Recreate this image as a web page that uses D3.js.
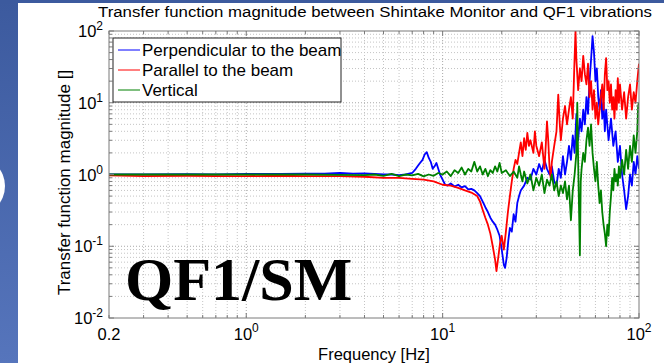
<!DOCTYPE html>
<html>
<head>
<meta charset="utf-8">
<script src="https://cdn.jsdelivr.net/npm/d3@7"></script>
<style>
  body { margin: 0; background: #fff; }
  svg { display: block; font-family: Arial, "Liberation Sans", sans-serif; }
</style>
</head>
<body>
<svg width="664" height="363"></svg>
<script>
// chart text
let title_text = "Transfer function magnitude between Shintake Monitor and QF1 vibrations";
let x_title_text = "Frequency [Hz]";
let y_title_text = "Transfer function magnitude []";
let stamp_text = "QF1/SM";
let series_names = ["Perpendicular to the beam", "Parallel to the beam", "Vertical"];
let series_colors = ["#0000ff", "#ff0000", "#008000"];

// axis ticks: [value, base, exponent]
let x_ticks = [[0.2, "0.2", null], [1, "10", "0"], [10, "10", "1"], [100, "10", "2"]];
let y_ticks = [[0.01, "10", "-2"], [0.1, "10", "-1"], [1, "10", "0"], [10, "10", "1"], [100, "10", "2"]];

// [frequency Hz, magnitude]
let perpendicular = [
  [0.2, 1.0], [0.3, 1.0], [0.5, 1.01], [0.7, 1.0], [1, 1.02], [1.5, 1.02], [2, 1.03],
  [2.5, 1.03], [3, 1.05], [3.5, 1.03], [4, 1.04], [4.5, 1.02], [5, 1.0], [5.5, 1.0],
  [6, 0.98], [6.5, 1.0], [7, 1.05], [7.3, 1.2], [7.6, 1.4], [7.9, 1.6], [8.1, 1.9],
  [8.3, 2.05], [8.5, 1.7], [8.7, 1.5], [8.9, 1.2], [9.1, 1.3], [9.3, 1.45], [9.5, 1.2],
  [9.7, 1.0], [10, 0.85], [10.3, 0.72], [10.6, 0.7], [11, 0.75], [11.5, 0.68], [12, 0.72],
  [12.5, 0.66], [13, 0.69], [13.5, 0.62], [14, 0.63], [14.5, 0.6], [15, 0.55], [15.5, 0.5],
  [16, 0.42], [16.5, 0.35], [17, 0.3], [17.5, 0.25], [18, 0.22], [18.5, 0.2], [19, 0.17],
  [19.5, 0.14], [20, 0.09], [20.5, 0.055], [20.8, 0.05], [21.2, 0.07], [21.6, 0.12],
  [22, 0.18], [22.5, 0.16], [23, 0.28], [23.5, 0.22], [24, 0.4], [24.5, 0.5], [25, 0.6],
  [26, 0.7], [27, 0.9], [28, 0.85], [29, 1.2], [30, 1.0], [31, 1.4], [32, 1.1], [33, 1.6],
  [34, 1.2], [35, 1.0], [36, 1.3], [37, 0.8], [38, 0.7], [39, 1.2], [40, 0.9], [41, 1.8],
  [42, 1.0], [43, 1.5], [44, 2.5], [45, 1.6], [46, 3.5], [47, 2.0], [48, 7], [49, 3],
  [50, 6], [51, 4], [52, 8], [53, 5], [54, 12], [55, 7], [56, 20], [57, 40], [58, 85],
  [59, 50], [60, 20], [61, 30], [62, 12], [63, 8], [64, 15], [65, 6], [66, 10], [67, 4],
  [68, 8], [70, 3], [72, 6], [74, 2.5], [76, 4], [78, 1.5], [80, 2.5], [82, 1.0],
  [84, 0.6], [86, 0.33], [88, 0.5], [90, 1.0], [92, 0.7], [94, 1.5], [96, 1.0], [98, 1.8],
  [100, 1.2]
];

let parallel = [
  [0.2, 0.97], [0.3, 0.95], [0.5, 0.96], [0.7, 0.95], [1, 0.95], [1.5, 0.96], [2, 0.95],
  [3, 0.95], [4, 0.93], [5, 0.9], [6, 0.9], [7, 0.87], [8, 0.85], [9, 0.8], [10, 0.72],
  [11, 0.7], [12, 0.65], [13, 0.6], [14, 0.56], [15, 0.5], [15.5, 0.42], [16, 0.32],
  [16.5, 0.25], [17, 0.2], [17.5, 0.15], [18, 0.1], [18.5, 0.065], [18.8, 0.045],
  [19.2, 0.07], [19.6, 0.11], [20, 0.14], [20.5, 0.09], [21, 0.16], [21.5, 0.3], [22, 0.5],
  [22.5, 0.8], [23, 1.2], [23.5, 1.6], [24, 1.4], [24.5, 2.0], [25, 2.8], [25.5, 1.8],
  [26, 3.2], [26.5, 2.2], [27, 3.8], [27.5, 2.5], [28, 3], [29, 2], [29.5, 4], [30, 2.5],
  [31, 1.8], [32, 2.8], [33, 1.2], [33.5, 2.5], [34, 5.5], [34.5, 3], [35, 1.3],
  [35.5, 0.9], [36, 1.5], [37, 2.5], [38, 4], [38.8, 13], [39.5, 5], [40, 3], [41, 6],
  [42, 9], [43, 5], [44, 8], [45, 12], [46, 6], [46.8, 30], [47.5, 100], [48, 40],
  [49, 15], [50, 30], [51, 20], [52, 45], [53, 25], [54, 18], [55, 35], [56, 12],
  [57, 20], [58, 8], [59, 15], [60, 6], [61, 10], [62, 5], [63, 8], [64, 12], [65, 18],
  [66, 8], [67, 25], [68, 42], [69, 15], [70, 20], [71, 10], [72, 18], [73, 8], [74, 12],
  [75, 6], [76, 15], [77, 8], [78, 22], [79, 10], [80, 18], [82, 8], [84, 14], [86, 6],
  [88, 12], [90, 18], [92, 8], [94, 14], [96, 10], [98, 20], [100, 35]
];

let vertical = [
  [0.2, 1.0], [0.5, 1.0], [1, 1.0], [2, 1.0], [3, 0.99], [4, 0.98], [4.5, 1.0], [5, 0.96],
  [5.5, 1.02], [6, 0.95], [6.5, 1.0], [7, 0.97], [7.5, 1.02], [8, 0.94], [8.5, 1.0],
  [9, 0.96], [9.5, 1.05], [10, 1.0], [10.5, 1.1], [11, 0.95], [11.5, 1.15], [12, 1.05],
  [12.5, 1.25], [13, 1.0], [13.5, 1.2], [14, 1.1], [14.5, 1.5], [15, 1.1], [15.5, 1.3],
  [16, 1.0], [16.5, 1.2], [17, 0.95], [17.5, 1.15], [18, 1.05], [18.5, 1.3], [19, 1.1],
  [19.5, 1.45], [20, 1.05], [21, 1.15], [22, 0.95], [23, 1.1], [24, 0.9], [24.5, 1.3],
  [25, 1.0], [25.5, 0.8], [26, 1.1], [27, 0.75], [28, 1.0], [29, 0.6], [30, 0.9],
  [31, 0.7], [32, 1.0], [33, 0.55], [34, 0.85], [35, 0.7], [36, 1.0], [37, 0.6], [38, 0.8],
  [39, 0.5], [40, 0.7], [41, 0.55], [42, 0.8], [43, 0.45], [44, 0.7], [45, 0.23], [46, 0.6],
  [47, 1.0], [48, 2.0], [48.5, 10], [49, 1.5], [50, 0.075], [50.5, 0.8], [51, 1.2], [52, 2],
  [53, 1.5], [54, 3], [55, 4.5], [56, 2.5], [57, 5], [58, 2], [59, 1.2], [60, 0.8],
  [61, 1.5], [62, 0.7], [63, 0.4], [64, 0.6], [65, 0.3], [66, 0.2], [67, 0.15], [68, 0.1],
  [69, 0.2], [70, 0.14], [71, 0.3], [72, 0.5], [73, 0.9], [74, 0.6], [75, 1.2], [76, 0.8],
  [77, 1.0], [78, 0.7], [79, 1.3], [80, 0.9], [82, 1.6], [84, 1.0], [86, 2.2], [88, 1.2],
  [90, 2.5], [92, 1.5], [94, 3.5], [96, 2.0], [98, 4], [99, 9], [100, 10]
];

let all_series = [perpendicular, parallel, vertical];

var margin = { top: 31, right: 25, bottom: 45, left: 109 };
var width = 664 - margin.left - margin.right;
var height = 363 - margin.top - margin.bottom;

var svg = d3.select("svg");

// slide background bits (blue strip on the left and top)
var grad = svg.append("defs").append("linearGradient")
  .attr("id", "slide").attr("x1", 0).attr("y1", 0).attr("x2", 0).attr("y2", 1);
grad.append("stop").attr("offset", "0%").attr("stop-color", "#3c5a9e");
grad.append("stop").attr("offset", "100%").attr("stop-color", "#5675bc");
svg.append("rect").attr("x", 0).attr("y", 0).attr("width", 18).attr("height", 363).attr("fill", "url(#slide)");
svg.append("rect").attr("x", 0).attr("y", 0).attr("width", 664).attr("height", 3).attr("fill", "#3c5a9e");
svg.append("circle").attr("cx", -25).attr("cy", 186).attr("r", 30).attr("fill", "#fff");

var g = svg.append("g").attr("transform", "translate(" + margin.left + "," + margin.top + ")");

var xScale = d3.scaleLog().domain([0.2, 100]).range([0, width]);
var yScale = d3.scaleLog().domain([0.01, 100]).range([height, 0]);

let isMajor = v => Math.abs(Math.log10(v) - Math.round(Math.log10(v))) < 1e-9;

// grid
var grid = g.append("g").attr("class", "grid");
xScale.ticks().forEach(function(t) {
  if (t <= 0.2 || t >= 100) return;
  grid.append("line")
    .attr("x1", xScale(t)).attr("x2", xScale(t)).attr("y1", 0).attr("y2", height)
    .attr("stroke", isMajor(t) ? "#a8a8a8" : "#c4c4c4")
    .attr("stroke-dasharray", "1,2");
});
yScale.ticks().forEach(function(t) {
  if (t <= 0.01 || t >= 100) return;
  grid.append("line")
    .attr("y1", yScale(t)).attr("y2", yScale(t)).attr("x1", 0).attr("x2", width)
    .attr("stroke", isMajor(t) ? "#a8a8a8" : "#c4c4c4")
    .attr("stroke-dasharray", "1,2");
});

// curves
var line = d3.line()
  .x(d => xScale(d[0]))
  .y(d => yScale(Math.max(0.01, Math.min(100, d[1]))));

g.append("defs").append("clipPath").attr("id", "plotclip")
  .append("rect").attr("width", width).attr("height", height);

g.append("g").attr("clip-path", "url(#plotclip)")
  .selectAll(".trend")
  .data(all_series)
  .enter()
  .append("path")
  .attr("class", "trend")
  .attr("d", d => line(d))
  .attr("fill", "none")
  .attr("stroke", (d, i) => series_colors[i])
  .attr("stroke-width", 1.8)
  .attr("stroke-linejoin", "round");

// axes box with inward ticks on all four sides
var tickCol = "#7a7a7a";
var ticks = g.append("g").attr("stroke", tickCol).attr("stroke-width", 1);
xScale.ticks().forEach(function(t) {
  var len = isMajor(t) ? 5 : 3;
  var x = xScale(t);
  ticks.append("line").attr("x1", x).attr("x2", x).attr("y1", height).attr("y2", height - len);
  ticks.append("line").attr("x1", x).attr("x2", x).attr("y1", 0).attr("y2", len);
});
yScale.ticks().forEach(function(t) {
  var len = isMajor(t) ? 5 : 3;
  var y = yScale(t);
  ticks.append("line").attr("y1", y).attr("y2", y).attr("x1", 0).attr("x2", len);
  ticks.append("line").attr("y1", y).attr("y2", y).attr("x1", width).attr("x2", width - len);
});
g.append("rect").attr("width", width).attr("height", height)
  .attr("fill", "none").attr("stroke", tickCol).attr("stroke-width", 1);

// tick labels
x_ticks.forEach(function(t) {
  var txt = g.append("text")
    .attr("x", xScale(t[0]))
    .attr("y", height + 22)
    .attr("text-anchor", "middle")
    .attr("font-size", "16.5px")
    .text(t[1]);
  if (t[2] !== null) {
    txt.append("tspan").attr("dy", -8).attr("font-size", "12px").text(t[2]);
  }
});
y_ticks.forEach(function(t) {
  var txt = g.append("text")
    .attr("x", -6)
    .attr("y", yScale(t[0]) + 6)
    .attr("text-anchor", "end")
    .attr("font-size", "16.5px")
    .text(t[1]);
  txt.append("tspan").attr("dy", -7).attr("font-size", "12px").text(t[2]);
});

// titles
svg.append("text")
  .attr("x", margin.left + width / 2 + 1)
  .attr("y", 17)
  .attr("text-anchor", "middle")
  .attr("font-size", "15.5px")
  .attr("textLength", 554)
  .attr("lengthAdjust", "spacingAndGlyphs")
  .text(title_text);

svg.append("text")
  .attr("x", margin.left + width / 2)
  .attr("y", 360)
  .attr("text-anchor", "middle")
  .attr("font-size", "16.5px")
  .text(x_title_text);

svg.append("text")
  .attr("transform", "translate(70," + (margin.top + height / 2 + 8) + ") rotate(-90)")
  .attr("text-anchor", "middle")
  .attr("font-size", "17px")
  .text(y_title_text);

// legend
var legend = svg.append("g").attr("transform", "translate(113,38)");
legend.append("rect").attr("width", 228).attr("height", 64)
  .attr("fill", "#fff").attr("stroke", "#222").attr("stroke-width", 1);
series_names.forEach(function(name, i) {
  var y = 12 + i * 20;
  legend.append("line").attr("x1", 5).attr("x2", 27).attr("y1", y).attr("y2", y)
    .attr("stroke", series_colors[i]).attr("stroke-width", 1);
  legend.append("text").attr("x", 29).attr("y", y + 5.5)
    .attr("font-size", "17px").text(name);
});

// big stamp inside the plot
svg.append("text")
  .attr("x", 125)
  .attr("y", 300)
  .attr("font-family", "'Liberation Serif', 'Times New Roman', serif")
  .attr("font-weight", "bold")
  .attr("font-size", "62px")
  .text(stamp_text);
</script>
</body>
</html>
